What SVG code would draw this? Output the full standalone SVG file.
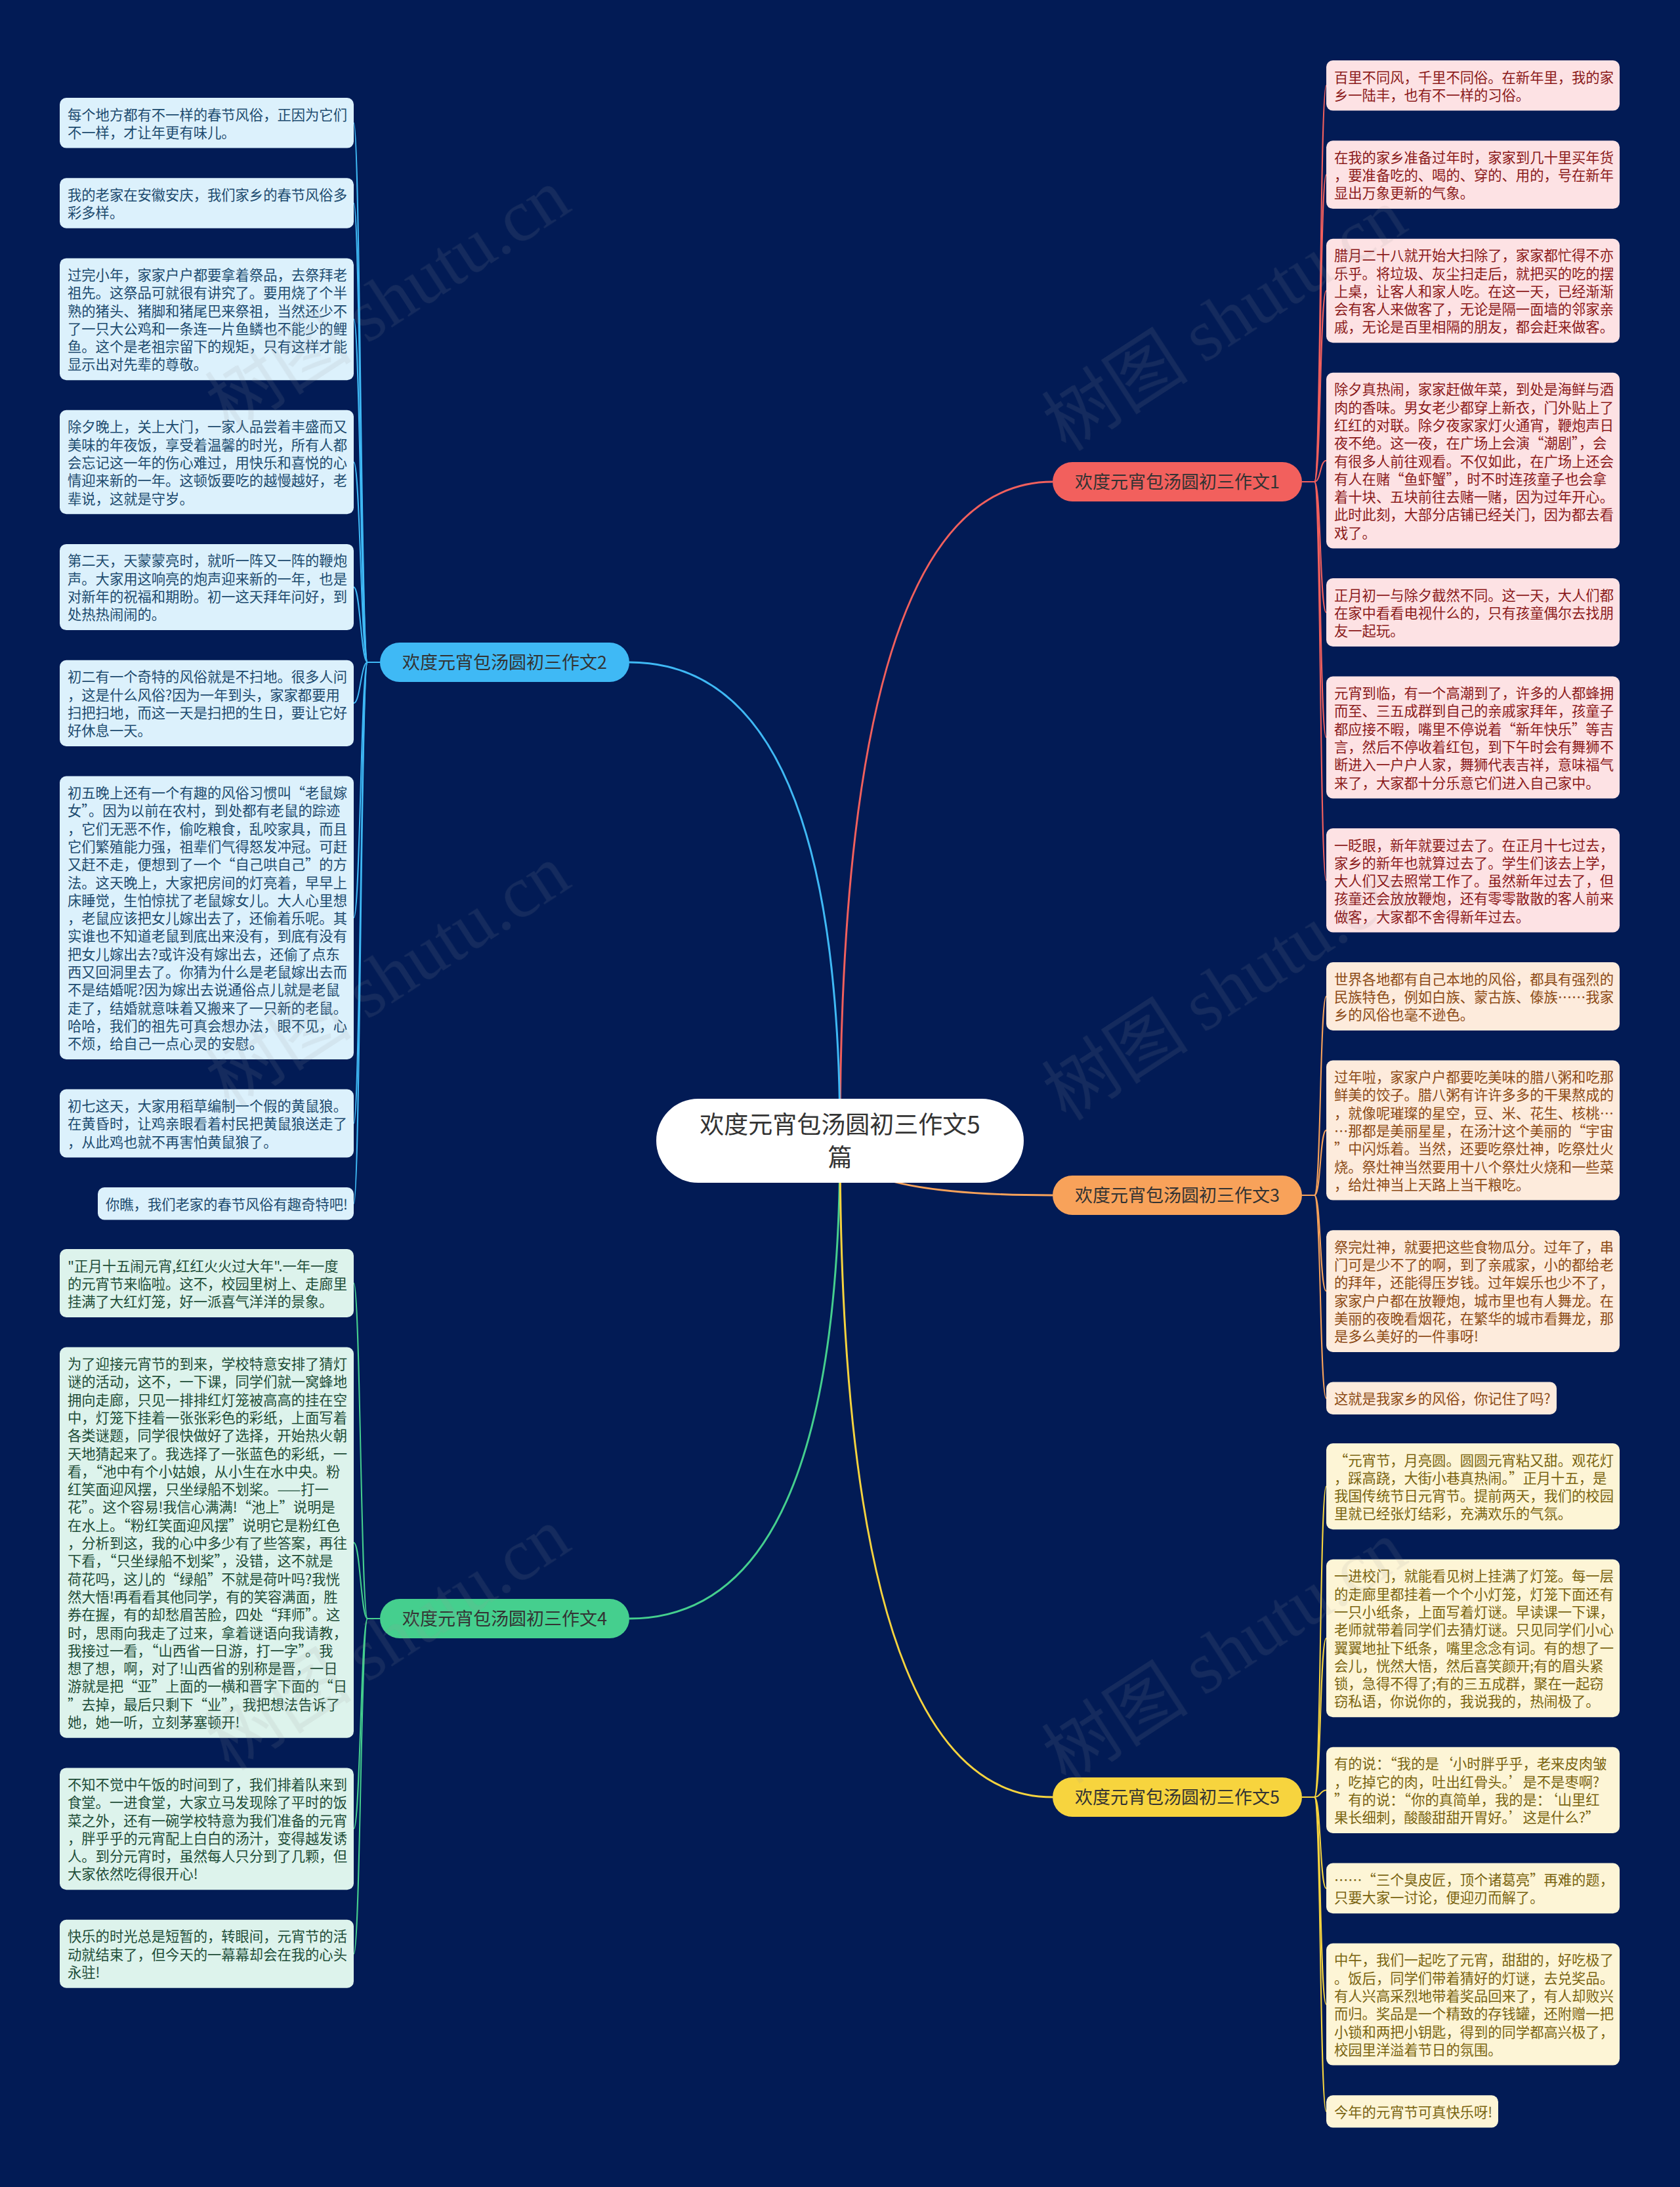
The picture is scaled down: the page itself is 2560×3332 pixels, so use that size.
<svg xmlns="http://www.w3.org/2000/svg" width="2560" height="3332" viewBox="0 0 2560 3332">
<style>
.t{font-family:"Noto Sans CJK SC","Noto Sans",sans-serif;font-size:21.3px}
.bt{font-family:"Noto Sans CJK SC","Noto Sans",sans-serif;font-size:27px;fill:#333;text-anchor:middle}
.ct{font-family:"Noto Sans CJK SC","Noto Sans",sans-serif;font-size:37px;fill:#333;text-anchor:middle}
.k1 rect{fill:#fde2e4}.k1 text{fill:#8b1a1a}
.k2 rect{fill:#dcf1fc}.k2 text{fill:#1d4b6f}
.k3 rect{fill:#fdebdc}.k3 text{fill:#8c4a15}
.k4 rect{fill:#ddf3ec}.k4 text{fill:#1e4d38}
.k5 rect{fill:#fdf5d6}.k5 text{fill:#7a6410}
.lk{fill:none;stroke-width:3}
.lc{fill:none;stroke-width:2}
.s1{stroke:#f2605d}.s2{stroke:#3fb9f5}.s3{stroke:#f8a25a}.s4{stroke:#45cf8e}.s5{stroke:#f7d43e}
.wm{font-family:"Noto Sans CJK SC",sans-serif;font-size:112px;fill:#9a9a9a;opacity:0.13}
.wms{font-family:"Liberation Serif",serif}
</style>
<rect width="2560" height="3332" fill="#021b55"/>
<g id="connectors">
<path class="lk s1" d="M1280 1738 Q1280 734 1604 734"/>
<path class="lk s2" d="M1280 1738 Q1280 1009 959 1009"/>
<path class="lk s3" d="M1280 1738 Q1280 1821 1604 1821"/>
<path class="lk s4" d="M1280 1738 Q1280 2466 959 2466"/>
<path class="lk s5" d="M1280 1738 Q1280 2738 1604 2738"/>
<g class="lc s1">
<path d="M1984 734 H2003"/>
<path d="M2003 734 C2013 734 2011 130.3 2021 130.3"/>
<path d="M2003 734 C2013 734 2011 266.2 2021 266.2"/>
<path d="M2003 734 C2013 734 2011 443 2021 443"/>
<path d="M2003 734 C2013 734 2011 701.7 2021 701.7"/>
<path d="M2003 734 C2013 734 2011 933 2021 933"/>
<path d="M2003 734 C2013 734 2011 1123.5 2021 1123.5"/>
<path d="M2003 734 C2013 734 2011 1341.3 2021 1341.3"/>
</g>
<g class="lc s2">
<path d="M579 1009 H560"/>
<path d="M560 1009 C550 1009 549 187.3 539 187.3"/>
<path d="M560 1009 C550 1009 549 309.5 539 309.5"/>
<path d="M560 1009 C550 1009 549 486.3 539 486.3"/>
<path d="M560 1009 C550 1009 549 704 539 704"/>
<path d="M560 1009 C550 1009 549 894.5 539 894.5"/>
<path d="M560 1009 C550 1009 549 1071.3 539 1071.3"/>
<path d="M560 1009 C550 1009 549 1398.3 539 1398.3"/>
<path d="M560 1009 C550 1009 549 1711.5 539 1711.5"/>
<path d="M560 1009 C550 1009 549 1833.8 539 1833.8"/>
</g>
<g class="lc s3">
<path d="M1984 1821 H2003"/>
<path d="M2003 1821 C2013 1821 2011 1518 2021 1518"/>
<path d="M2003 1821 C2013 1821 2011 1722 2021 1722"/>
<path d="M2003 1821 C2013 1821 2011 1967.1 2021 1967.1"/>
<path d="M2003 1821 C2013 1821 2011 2130.3 2021 2130.3"/>
</g>
<g class="lc s4">
<path d="M579 2466 H560"/>
<path d="M560 2466 C550 2466 549 1955 539 1955"/>
<path d="M560 2466 C550 2466 549 2350.2 539 2350.2"/>
<path d="M560 2466 C550 2466 549 2786.3 539 2786.3"/>
<path d="M560 2466 C550 2466 549 2976.8 539 2976.8"/>
</g>
<g class="lc s5">
<path d="M1984 2738 H2003"/>
<path d="M2003 2738 C2013 2738 2011 2264.6 2021 2264.6"/>
<path d="M2003 2738 C2013 2738 2011 2496 2021 2496"/>
<path d="M2003 2738 C2013 2738 2011 2727.4 2021 2727.4"/>
<path d="M2003 2738 C2013 2738 2011 2876.9 2021 2876.9"/>
<path d="M2003 2738 C2013 2738 2011 3053.7 2021 3053.7"/>
<path d="M2003 2738 C2013 2738 2011 3216.9 2021 3216.9"/>
</g>
</g>
<g id="root"><rect x="1000" y="1674" width="560" height="128" rx="64" fill="#fff"/><text class="ct" x="1280" y="1727">欢度元宵包汤圆初三作文5<tspan x="1280" dy="50">篇</tspan></text></g>
<g id="br1"><rect x="1604" y="704" width="380" height="60" rx="30" fill="#f2605d"/><text class="bt" x="1794" y="744">欢度元宵包汤圆初三作文1</text></g>
<g id="br2"><rect x="579" y="979" width="380" height="60" rx="30" fill="#3fb9f5"/><text class="bt" x="769" y="1019">欢度元宵包汤圆初三作文2</text></g>
<g id="br3"><rect x="1604" y="1791" width="380" height="60" rx="30" fill="#f8a25a"/><text class="bt" x="1794" y="1831">欢度元宵包汤圆初三作文3</text></g>
<g id="br4"><rect x="579" y="2436" width="380" height="60" rx="30" fill="#45cf8e"/><text class="bt" x="769" y="2476">欢度元宵包汤圆初三作文4</text></g>
<g id="br5"><rect x="1604" y="2708" width="380" height="60" rx="30" fill="#f7d43e"/><text class="bt" x="1794" y="2748">欢度元宵包汤圆初三作文5</text></g>

<g id="b2-1" class="k2"><rect x="91" y="149" width="448" height="76.6" rx="10"/><text class="t" x="103" y="182.5">每个地方都有不一样的春节风俗，正因为它们<tspan x="103" dy="27.3">不一样，才让年更有味儿。</tspan></text></g>
<g id="b2-2" class="k2"><rect x="91" y="271.2" width="448" height="76.6" rx="10"/><text class="t" x="103" y="304.7">我的老家在安徽安庆，我们家乡的春节风俗多<tspan x="103" dy="27.3">彩多样。</tspan></text></g>
<g id="b2-3" class="k2"><rect x="91" y="393.4" width="448" height="185.8" rx="10"/><text class="t" x="103" y="426.9">过完小年，家家户户都要拿着祭品，去祭拜老<tspan x="103" dy="27.3">祖先。这祭品可就很有讲究了。要用烧了个半</tspan><tspan x="103" dy="27.3">熟的猪头、猪脚和猪尾巴来祭祖，当然还少不</tspan><tspan x="103" dy="27.3">了一只大公鸡和一条连一片鱼鳞也不能少的鲤</tspan><tspan x="103" dy="27.3">鱼。这个是老祖宗留下的规矩，只有这样才能</tspan><tspan x="103" dy="27.3">显示出对先辈的尊敬。</tspan></text></g>
<g id="b2-4" class="k2"><rect x="91" y="624.8" width="448" height="158.5" rx="10"/><text class="t" x="103" y="658.3">除夕晚上，关上大门，一家人品尝着丰盛而又<tspan x="103" dy="27.3">美味的年夜饭，享受着温馨的时光，所有人都</tspan><tspan x="103" dy="27.3">会忘记这一年的伤心难过，用快乐和喜悦的心</tspan><tspan x="103" dy="27.3">情迎来新的一年。这顿饭要吃的越慢越好，老</tspan><tspan x="103" dy="27.3">辈说，这就是守岁。</tspan></text></g>
<g id="b2-5" class="k2"><rect x="91" y="828.9" width="448" height="131.2" rx="10"/><text class="t" x="103" y="862.4">第二天，天蒙蒙亮时，就听一阵又一阵的鞭炮<tspan x="103" dy="27.3">声。大家用这响亮的炮声迎来新的一年，也是</tspan><tspan x="103" dy="27.3">对新年的祝福和期盼。初一这天拜年问好，到</tspan><tspan x="103" dy="27.3">处热热闹闹的。</tspan></text></g>
<g id="b2-6" class="k2"><rect x="91" y="1005.7" width="448" height="131.2" rx="10"/><text class="t" x="103" y="1039.2">初二有一个奇特的风俗就是不扫地。很多人问<tspan x="103" dy="27.3">，这是什么风俗?因为一年到头，家家都要用</tspan><tspan x="103" dy="27.3">扫把扫地，而这一天是扫把的生日，要让它好</tspan><tspan x="103" dy="27.3">好休息一天。</tspan></text></g>
<g id="b2-7" class="k2"><rect x="91" y="1182.5" width="448" height="431.5" rx="10"/><text class="t" x="103" y="1216">初五晚上还有一个有趣的风俗习惯叫“老鼠嫁<tspan x="103" dy="27.3">女”。因为以前在农村，到处都有老鼠的踪迹</tspan><tspan x="103" dy="27.3">，它们无恶不作，偷吃粮食，乱咬家具，而且</tspan><tspan x="103" dy="27.3">它们繁殖能力强，祖辈们气得怒发冲冠。可赶</tspan><tspan x="103" dy="27.3">又赶不走，便想到了一个“自己哄自己”的方</tspan><tspan x="103" dy="27.3">法。这天晚上，大家把房间的灯亮着，早早上</tspan><tspan x="103" dy="27.3">床睡觉，生怕惊扰了老鼠嫁女儿。大人心里想</tspan><tspan x="103" dy="27.3">，老鼠应该把女儿嫁出去了，还偷着乐呢。其</tspan><tspan x="103" dy="27.3">实谁也不知道老鼠到底出来没有，到底有没有</tspan><tspan x="103" dy="27.3">把女儿嫁出去?或许没有嫁出去，还偷了点东</tspan><tspan x="103" dy="27.3">西又回洞里去了。你猜为什么是老鼠嫁出去而</tspan><tspan x="103" dy="27.3">不是结婚呢?因为嫁出去说通俗点儿就是老鼠</tspan><tspan x="103" dy="27.3">走了，结婚就意味着又搬来了一只新的老鼠。</tspan><tspan x="103" dy="27.3">哈哈，我们的祖先可真会想办法，眼不见，心</tspan><tspan x="103" dy="27.3">不烦，给自己一点心灵的安慰。</tspan></text></g>
<g id="b2-8" class="k2"><rect x="91" y="1659.6" width="448" height="103.9" rx="10"/><text class="t" x="103" y="1693.1">初七这天，大家用稻草编制一个假的黄鼠狼。<tspan x="103" dy="27.3">在黄昏时，让鸡亲眼看着村民把黄鼠狼送走了</tspan><tspan x="103" dy="27.3">，从此鸡也就不再害怕黄鼠狼了。</tspan></text></g>
<g id="b2-9" class="k2"><rect x="149" y="1809.1" width="390" height="49.3" rx="10"/><text class="t" x="161" y="1842.6">你瞧，我们老家的春节风俗有趣奇特吧!</text></g>

<g id="b4-1" class="k4"><rect x="91" y="1903" width="448" height="103.9" rx="10"/><text class="t" x="103" y="1936.5">"正月十五闹元宵,红红火火过大年".一年一度<tspan x="103" dy="27.3">的元宵节来临啦。这不，校园里树上、走廊里</tspan><tspan x="103" dy="27.3">挂满了大红灯笼，好一派喜气洋洋的景象。</tspan></text></g>
<g id="b4-2" class="k4"><rect x="91" y="2052.5" width="448" height="595.3" rx="10"/><text class="t" x="103" y="2086">为了迎接元宵节的到来，学校特意安排了猜灯<tspan x="103" dy="27.3">谜的活动，这不，一下课，同学们就一窝蜂地</tspan><tspan x="103" dy="27.3">拥向走廊，只见一排排红灯笼被高高的挂在空</tspan><tspan x="103" dy="27.3">中，灯笼下挂着一张张彩色的彩纸，上面写着</tspan><tspan x="103" dy="27.3">各类谜题，同学很快做好了选择，开始热火朝</tspan><tspan x="103" dy="27.3">天地猜起来了。我选择了一张蓝色的彩纸，一</tspan><tspan x="103" dy="27.3">看，“池中有个小姑娘，从小生在水中央。粉</tspan><tspan x="103" dy="27.3">红笑面迎风摆，只坐绿船不划桨。——打一</tspan><tspan x="103" dy="27.3">花”。这个容易!我信心满满!“池上”说明是</tspan><tspan x="103" dy="27.3">在水上。“粉红笑面迎风摆”说明它是粉红色</tspan><tspan x="103" dy="27.3">，分析到这，我的心中多少有了些答案，再往</tspan><tspan x="103" dy="27.3">下看，“只坐绿船不划桨”，没错，这不就是</tspan><tspan x="103" dy="27.3">荷花吗，这儿的“绿船”不就是荷叶吗?我恍</tspan><tspan x="103" dy="27.3">然大悟!再看看其他同学，有的笑容满面，胜</tspan><tspan x="103" dy="27.3">券在握，有的却愁眉苦脸，四处“拜师”。这</tspan><tspan x="103" dy="27.3">时，思雨向我走了过来，拿着谜语向我请教，</tspan><tspan x="103" dy="27.3">我接过一看，“山西省一日游，打一字”。我</tspan><tspan x="103" dy="27.3">想了想，啊，对了!山西省的别称是晋，一日</tspan><tspan x="103" dy="27.3">游就是把“亚”上面的一横和晋字下面的“日</tspan><tspan x="103" dy="27.3">”去掉，最后只剩下“业”，我把想法告诉了</tspan><tspan x="103" dy="27.3">她，她一听，立刻茅塞顿开!</tspan></text></g>
<g id="b4-3" class="k4"><rect x="91" y="2693.4" width="448" height="185.8" rx="10"/><text class="t" x="103" y="2726.9">不知不觉中午饭的时间到了，我们排着队来到<tspan x="103" dy="27.3">食堂。一进食堂，大家立马发现除了平时的饭</tspan><tspan x="103" dy="27.3">菜之外，还有一碗学校特意为我们准备的元宵</tspan><tspan x="103" dy="27.3">，胖乎乎的元宵配上白白的汤汁，变得越发诱</tspan><tspan x="103" dy="27.3">人。到分元宵时，虽然每人只分到了几颗，但</tspan><tspan x="103" dy="27.3">大家依然吃得很开心!</tspan></text></g>
<g id="b4-4" class="k4"><rect x="91" y="2924.8" width="448" height="103.9" rx="10"/><text class="t" x="103" y="2958.3">快乐的时光总是短暂的，转眼间，元宵节的活<tspan x="103" dy="27.3">动就结束了，但今天的一幕幕却会在我的心头</tspan><tspan x="103" dy="27.3">永驻!</tspan></text></g>

<g id="b1-1" class="k1"><rect x="2021" y="92" width="447" height="76.6" rx="10"/><text class="t" x="2033" y="125.5">百里不同风，千里不同俗。在新年里，我的家<tspan x="2033" dy="27.3">乡一陆丰，也有不一样的习俗。</tspan></text></g>
<g id="b1-2" class="k1"><rect x="2021" y="214.2" width="447" height="103.9" rx="10"/><text class="t" x="2033" y="247.7">在我的家乡准备过年时，家家到几十里买年货<tspan x="2033" dy="27.3">，要准备吃的、喝的、穿的、用的，号在新年</tspan><tspan x="2033" dy="27.3">显出万象更新的气象。</tspan></text></g>
<g id="b1-3" class="k1"><rect x="2021" y="363.7" width="447" height="158.5" rx="10"/><text class="t" x="2033" y="397.2">腊月二十八就开始大扫除了，家家都忙得不亦<tspan x="2033" dy="27.3">乐乎。将垃圾、灰尘扫走后，就把买的吃的摆</tspan><tspan x="2033" dy="27.3">上桌，让客人和家人吃。在这一天，已经渐渐</tspan><tspan x="2033" dy="27.3">会有客人来做客了，无论是隔一面墙的邻家亲</tspan><tspan x="2033" dy="27.3">戚，无论是百里相隔的朋友，都会赶来做客。</tspan></text></g>
<g id="b1-4" class="k1"><rect x="2021" y="567.8" width="447" height="267.7" rx="10"/><text class="t" x="2033" y="601.3">除夕真热闹，家家赶做年菜，到处是海鲜与酒<tspan x="2033" dy="27.3">肉的香味。男女老少都穿上新衣，门外贴上了</tspan><tspan x="2033" dy="27.3">红红的对联。除夕夜家家灯火通宵，鞭炮声日</tspan><tspan x="2033" dy="27.3">夜不绝。这一夜，在广场上会演“潮剧”，会</tspan><tspan x="2033" dy="27.3">有很多人前往观看。不仅如此，在广场上还会</tspan><tspan x="2033" dy="27.3">有人在赌“鱼虾蟹”，时不时连孩童子也会拿</tspan><tspan x="2033" dy="27.3">着十块、五块前往去赌一赌，因为过年开心。</tspan><tspan x="2033" dy="27.3">此时此刻，大部分店铺已经关门，因为都去看</tspan><tspan x="2033" dy="27.3">戏了。</tspan></text></g>
<g id="b1-5" class="k1"><rect x="2021" y="881.1" width="447" height="103.9" rx="10"/><text class="t" x="2033" y="914.6">正月初一与除夕截然不同。这一天，大人们都<tspan x="2033" dy="27.3">在家中看看电视什么的，只有孩童偶尔去找朋</tspan><tspan x="2033" dy="27.3">友一起玩。</tspan></text></g>
<g id="b1-6" class="k1"><rect x="2021" y="1030.6" width="447" height="185.8" rx="10"/><text class="t" x="2033" y="1064.1">元宵到临，有一个高潮到了，许多的人都蜂拥<tspan x="2033" dy="27.3">而至、三五成群到自己的亲戚家拜年，孩童子</tspan><tspan x="2033" dy="27.3">都应接不暇，嘴里不停说着“新年快乐”等吉</tspan><tspan x="2033" dy="27.3">言，然后不停收着红包，到下午时会有舞狮不</tspan><tspan x="2033" dy="27.3">断进入一户户人家，舞狮代表吉祥，意味福气</tspan><tspan x="2033" dy="27.3">来了，大家都十分乐意它们进入自己家中。</tspan></text></g>
<g id="b1-7" class="k1"><rect x="2021" y="1262" width="447" height="158.5" rx="10"/><text class="t" x="2033" y="1295.5">一眨眼，新年就要过去了。在正月十七过去，<tspan x="2033" dy="27.3">家乡的新年也就算过去了。学生们该去上学，</tspan><tspan x="2033" dy="27.3">大人们又去照常工作了。虽然新年过去了，但</tspan><tspan x="2033" dy="27.3">孩童还会放放鞭炮，还有零零散散的客人前来</tspan><tspan x="2033" dy="27.3">做客，大家都不舍得新年过去。</tspan></text></g>

<g id="b3-1" class="k3"><rect x="2021" y="1466" width="447" height="103.9" rx="10"/><text class="t" x="2033" y="1499.5">世界各地都有自己本地的风俗，都具有强烈的<tspan x="2033" dy="27.3">民族特色，例如白族、蒙古族、傣族……我家</tspan><tspan x="2033" dy="27.3">乡的风俗也毫不逊色。</tspan></text></g>
<g id="b3-2" class="k3"><rect x="2021" y="1615.5" width="447" height="213.1" rx="10"/><text class="t" x="2033" y="1649">过年啦，家家户户都要吃美味的腊八粥和吃那<tspan x="2033" dy="27.3">鲜美的饺子。腊八粥有许许多多的干果熬成的</tspan><tspan x="2033" dy="27.3">，就像呢璀璨的星空，豆、米、花生、核桃…</tspan><tspan x="2033" dy="27.3">…那都是美丽星星，在汤汁这个美丽的“宇宙</tspan><tspan x="2033" dy="27.3">”中闪烁着。当然，还要吃祭灶神，吃祭灶火</tspan><tspan x="2033" dy="27.3">烧。祭灶神当然要用十八个祭灶火烧和一些菜</tspan><tspan x="2033" dy="27.3">，给灶神当上天路上当干粮吃。</tspan></text></g>
<g id="b3-3" class="k3"><rect x="2021" y="1874.2" width="447" height="185.8" rx="10"/><text class="t" x="2033" y="1907.7">祭完灶神，就要把这些食物瓜分。过年了，串<tspan x="2033" dy="27.3">门可是少不了的啊，到了亲戚家，小的都给老</tspan><tspan x="2033" dy="27.3">的拜年，还能得压岁钱。过年娱乐也少不了，</tspan><tspan x="2033" dy="27.3">家家户户都在放鞭炮，城市里也有人舞龙。在</tspan><tspan x="2033" dy="27.3">美丽的夜晚看烟花，在繁华的城市看舞龙，那</tspan><tspan x="2033" dy="27.3">是多么美好的一件事呀!</tspan></text></g>
<g id="b3-4" class="k3"><rect x="2021" y="2105.6" width="351" height="49.3" rx="10"/><text class="t" x="2033" y="2139.1">这就是我家乡的风俗，你记住了吗?</text></g>

<g id="b5-1" class="k5"><rect x="2021" y="2199" width="447" height="131.2" rx="10"/><text class="t" x="2033" y="2232.5">“元宵节，月亮圆。圆圆元宵粘又甜。观花灯<tspan x="2033" dy="27.3">，踩高跷，大街小巷真热闹。”正月十五，是</tspan><tspan x="2033" dy="27.3">我国传统节日元宵节。提前两天，我们的校园</tspan><tspan x="2033" dy="27.3">里就已经张灯结彩，充满欢乐的气氛。</tspan></text></g>
<g id="b5-2" class="k5"><rect x="2021" y="2375.8" width="447" height="240.4" rx="10"/><text class="t" x="2033" y="2409.3">一进校门，就能看见树上挂满了灯笼。每一层<tspan x="2033" dy="27.3">的走廊里都挂着一个个小灯笼，灯笼下面还有</tspan><tspan x="2033" dy="27.3">一只小纸条，上面写着灯谜。早读课一下课，</tspan><tspan x="2033" dy="27.3">老师就带着同学们去猜灯谜。只见同学们小心</tspan><tspan x="2033" dy="27.3">翼翼地扯下纸条，嘴里念念有词。有的想了一</tspan><tspan x="2033" dy="27.3">会儿，恍然大悟，然后喜笑颜开;有的眉头紧</tspan><tspan x="2033" dy="27.3">锁，急得不得了;有的三五成群，聚在一起窃</tspan><tspan x="2033" dy="27.3">窃私语，你说你的，我说我的，热闹极了。</tspan></text></g>
<g id="b5-3" class="k5"><rect x="2021" y="2661.8" width="447" height="131.2" rx="10"/><text class="t" x="2033" y="2695.3">有的说：“我的是‘小时胖乎乎，老来皮肉皱<tspan x="2033" dy="27.3">，吃掉它的肉，吐出红骨头。’是不是枣啊?</tspan><tspan x="2033" dy="27.3">”有的说：“你的真简单，我的是：‘山里红</tspan><tspan x="2033" dy="27.3">果长细刺，酸酸甜甜开胃好。’这是什么?”</tspan></text></g>
<g id="b5-4" class="k5"><rect x="2021" y="2838.6" width="447" height="76.6" rx="10"/><text class="t" x="2033" y="2872.1">……“三个臭皮匠，顶个诸葛亮”再难的题，<tspan x="2033" dy="27.3">只要大家一讨论，便迎刃而解了。</tspan></text></g>
<g id="b5-5" class="k5"><rect x="2021" y="2960.8" width="447" height="185.8" rx="10"/><text class="t" x="2033" y="2994.3">中午，我们一起吃了元宵，甜甜的，好吃极了<tspan x="2033" dy="27.3">。饭后，同学们带着猜好的灯谜，去兑奖品。</tspan><tspan x="2033" dy="27.3">有人兴高采烈地带着奖品回来了，有人却败兴</tspan><tspan x="2033" dy="27.3">而归。奖品是一个精致的存钱罐，还附赠一把</tspan><tspan x="2033" dy="27.3">小锁和两把小钥匙，得到的同学都高兴极了，</tspan><tspan x="2033" dy="27.3">校园里洋溢着节日的氛围。</tspan></text></g>
<g id="b5-6" class="k5"><rect x="2021" y="3192.2" width="262" height="49.3" rx="10"/><text class="t" x="2033" y="3225.7">今年的元宵节可真快乐呀!</text></g>

<g id="watermark" class="wm">
<text transform="translate(350 660) rotate(-33)">树图 <tspan class="wms">shutu.cn</tspan></text>
<text transform="translate(350 1690) rotate(-33)">树图 <tspan class="wms">shutu.cn</tspan></text>
<text transform="translate(350 2700) rotate(-33)">树图 <tspan class="wms">shutu.cn</tspan></text>
<text transform="translate(1625 690) rotate(-33)">树图 <tspan class="wms">shutu.cn</tspan></text>
<text transform="translate(1625 1710) rotate(-33)">树图 <tspan class="wms">shutu.cn</tspan></text>
<text transform="translate(1625 2720) rotate(-33)">树图 <tspan class="wms">shutu.cn</tspan></text>
</g>
</svg>
